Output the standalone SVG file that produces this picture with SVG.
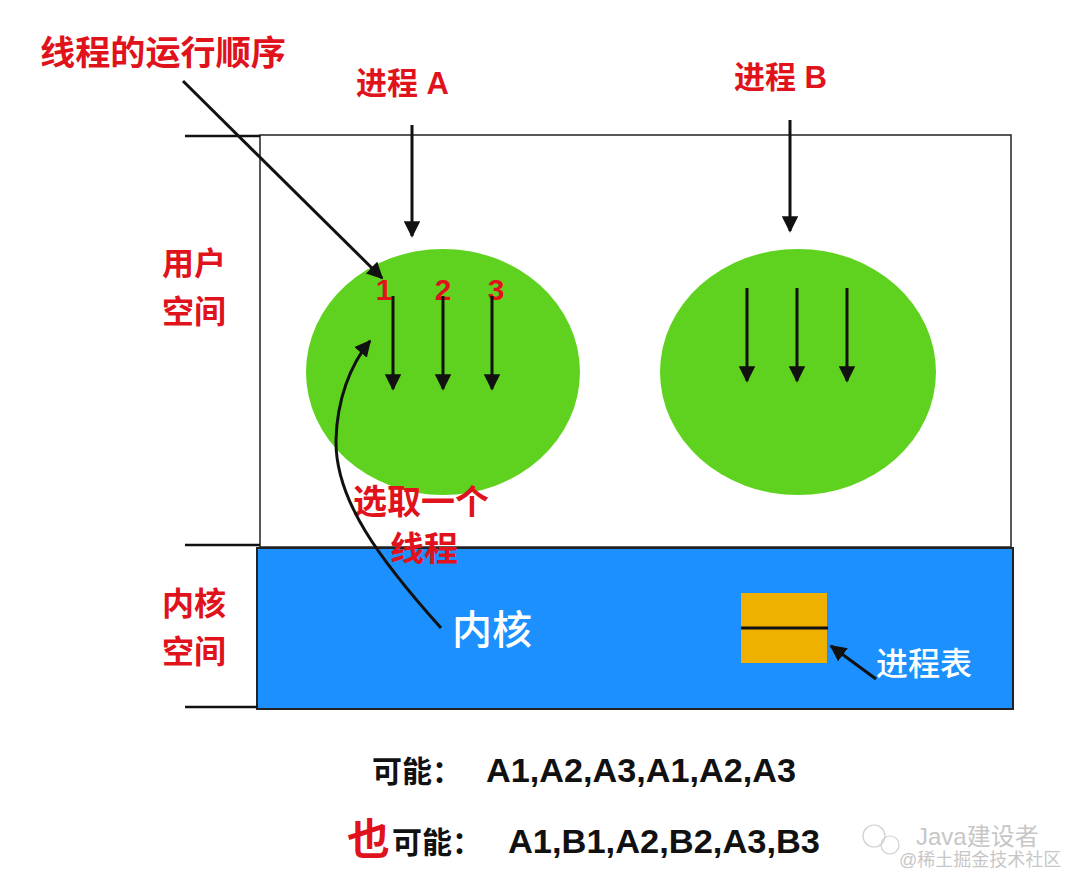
<svg xmlns="http://www.w3.org/2000/svg" width="1080" height="890" viewBox="0 0 1080 890">
<style>
.red{fill:#e0121c;font-family:"Liberation Sans","Noto Sans CJK SC",sans-serif;font-weight:bold}
.wt{fill:#ffffff;font-family:"Liberation Sans","Noto Sans CJK SC",sans-serif;font-weight:500}
.bk{fill:#111111;font-family:"Liberation Sans","Noto Sans CJK SC",sans-serif;font-weight:bold}
.ln{stroke:#111;stroke-width:3;fill:none}
.tk{stroke:#111;stroke-width:2.5}
</style>
<defs>
<marker id="ah" viewBox="0 0 10 10" refX="9" refY="5" markerWidth="5.5" markerHeight="5.5" orient="auto" markerUnits="strokeWidth">
<path d="M0,0 L10,5 L0,10 z" fill="#111"/>
</marker>
</defs>
<rect width="1080" height="890" fill="#fff"/>
<g id="user-space">
<rect x="260" y="135" width="751" height="412" fill="#fff" stroke="#222" stroke-width="1.5"/>
</g>
<g id="kernel-space">
<rect x="257" y="548" width="756" height="161" fill="#1b90fe" stroke="#222" stroke-width="2"/>
</g>
<g id="ticks">
<line class="tk" x1="185" y1="136" x2="260" y2="136"/>
<line class="tk" x1="185" y1="545" x2="260" y2="545"/>
<line class="tk" x1="185" y1="707" x2="258" y2="707"/>
</g>
<g id="process-a">
<ellipse cx="443" cy="372" rx="137" ry="123" fill="#5ed21f"/>
<text class="red" x="384" y="300" font-size="30" text-anchor="middle">1</text>
<text class="red" x="443" y="300" font-size="30" text-anchor="middle">2</text>
<text class="red" x="496" y="300" font-size="30" text-anchor="middle">3</text>
</g>
<g id="process-b">
<ellipse cx="798" cy="372" rx="138" ry="123" fill="#5ed21f"/>
</g>
<g id="process-table">
<rect x="741" y="593" width="86" height="70" fill="#f0b000"/>
<line x1="741" y1="628" x2="828" y2="628" stroke="#111" stroke-width="3"/>
</g>
<g id="labels">
<text class="red" x="40" y="65" font-size="34" textLength="246" lengthAdjust="spacingAndGlyphs">线程的运行顺序</text>
<text class="red" x="356" y="94" font-size="31">进程 A</text>
<text class="red" x="734" y="88" font-size="31">进程 B</text>
<text class="red" x="162" y="275" font-size="32">用户</text>
<text class="red" x="162" y="323" font-size="32">空间</text>
<text class="red" x="162" y="615" font-size="32">内核</text>
<text class="red" x="162" y="663" font-size="32">空间</text>
<text class="red" x="353" y="514" font-size="34">选取一个</text>
<text class="red" x="390" y="561" font-size="34">线程</text>
<text class="wt" x="452" y="644" font-size="40">内核</text>
<text class="wt" x="876" y="675" font-size="32">进程表</text>
</g>
<g id="connectors">
<line class="ln" x1="183" y1="81" x2="382" y2="278" marker-end="url(#ah)"/>
<line class="ln" x1="412" y1="125" x2="412" y2="236" marker-end="url(#ah)"/>
<line class="ln" x1="790" y1="120" x2="790" y2="231" marker-end="url(#ah)"/>
<line class="ln" x1="393" y1="296" x2="393" y2="389" marker-end="url(#ah)"/>
<line class="ln" x1="443" y1="296" x2="443" y2="389" marker-end="url(#ah)"/>
<line class="ln" x1="492" y1="296" x2="492" y2="389" marker-end="url(#ah)"/>
<line class="ln" x1="747" y1="288" x2="747" y2="381" marker-end="url(#ah)"/>
<line class="ln" x1="797" y1="288" x2="797" y2="381" marker-end="url(#ah)"/>
<line class="ln" x1="847" y1="288" x2="847" y2="381" marker-end="url(#ah)"/>
<path class="ln" d="M441,628 C380,560 335,500 336,440 C337,400 350,365 370,341" marker-end="url(#ah)"/>
<line class="ln" x1="876" y1="679" x2="831" y2="646" marker-end="url(#ah)"/>
</g>
<g id="bottom-text">
<text class="bk" x="372" y="782" font-size="30">可能：</text>
<text class="bk" x="486" y="782" font-size="33" textLength="310" lengthAdjust="spacingAndGlyphs">A1,A2,A3,A1,A2,A3</text>
<text class="red" x="347" y="855" font-size="43">也</text>
<text class="bk" x="392" y="853" font-size="30">可能：</text>
<text class="bk" x="508" y="853" font-size="33" textLength="312" lengthAdjust="spacingAndGlyphs">A1,B1,A2,B2,A3,B3</text>
</g>
<g id="watermark" opacity="0.55">
<circle cx="874" cy="836" r="11" fill="none" stroke="#aaa" stroke-width="1.2"/>
<circle cx="890" cy="845" r="9" fill="none" stroke="#aaa" stroke-width="1.2"/>
<text x="916" y="845" font-size="24" fill="#999" font-family="'Liberation Sans','Noto Sans CJK SC',sans-serif">Java建设者</text>
<text x="899" y="866" font-size="18" fill="#999" font-family="'Liberation Sans','Noto Sans CJK SC',sans-serif">@稀土掘金技术社区</text>
</g>
</svg>
